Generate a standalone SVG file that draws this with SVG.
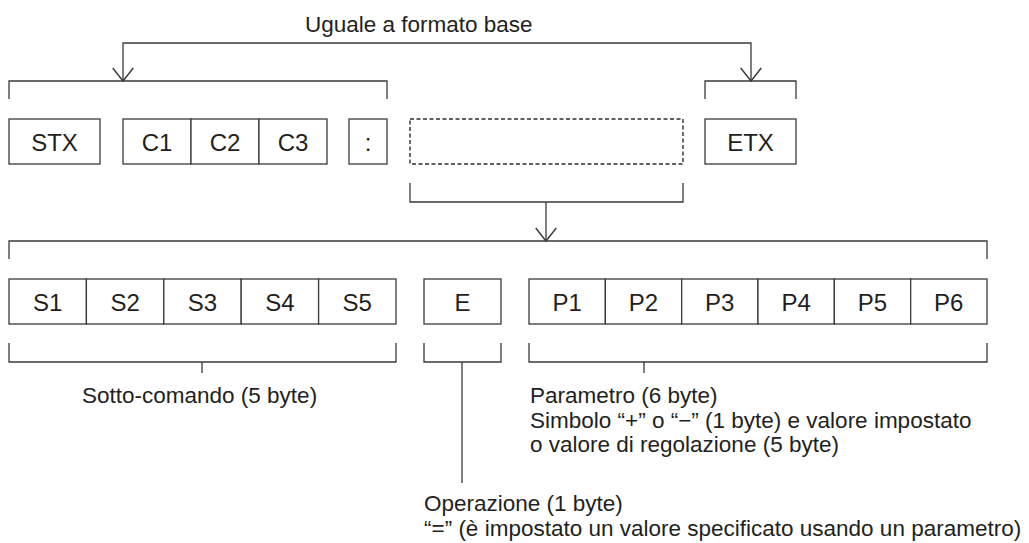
<svg xmlns="http://www.w3.org/2000/svg" width="1029" height="543" viewBox="0 0 1029 543">
<defs>
<marker id="arr" markerUnits="userSpaceOnUse" markerWidth="26" markerHeight="26" viewBox="-14 -12 16 24" refX="0" refY="0" orient="auto-start-reverse">
<path d="M-12,-9.5 L0,0 L-12,9.5" fill="none" stroke="#3a3a3a" stroke-width="1.3"/>
</marker>
<style>
.box{fill:#fff;stroke:#3a3a3a;stroke-width:1.3}
.dash{fill:none;stroke:#2e2e2e;stroke-width:1.4;stroke-dasharray:4 2.5}
.ln{fill:none;stroke:#3a3a3a;stroke-width:1.3}
.lbl{font-family:"Liberation Sans",Arial,Helvetica,sans-serif;font-size:24px;fill:#231f20;text-anchor:middle}
.txt{font-family:"Liberation Sans",Arial,Helvetica,sans-serif;font-size:22.5px;fill:#231f20}
</style>
</defs>
<rect width="1029" height="543" fill="#fff"/>

<g id="connectors">
<path class="ln" d="M123,81 V43 H751 V81" marker-start="url(#arr)" marker-end="url(#arr)"/>
<path class="ln" d="M9,99 V81 H387 V99"/>
<path class="ln" d="M705,99 V81 H796 V99"/>
<path class="ln" d="M410,183 V202 H683 V183"/>
<path class="ln" d="M546,202 V241" marker-end="url(#arr)"/>
<path class="ln" d="M9,259 V241 H987 V259"/>
<path class="ln" d="M9,343 V362 H396 V343 M202,362 V373"/>
<path class="ln" d="M424,343 V362 H501 V343 M462,362 V483"/>
<path class="ln" d="M529,343 V362 H987 V343 M644,362 V373"/>
</g>

<g id="stx"><rect class="box" x="9" y="119" width="91" height="45"/><text class="lbl" x="54.5" y="150.5">STX</text></g>
<g id="c1"><rect class="box" x="123" y="119" width="68" height="45"/><text class="lbl" x="157" y="150.5">C1</text></g>
<g id="c2"><rect class="box" x="191" y="119" width="68" height="45"/><text class="lbl" x="225" y="150.5">C2</text></g>
<g id="c3"><rect class="box" x="259" y="119" width="68" height="45"/><text class="lbl" x="293" y="150.5">C3</text></g>
<g id="colon"><rect class="box" x="349" y="119" width="38" height="45"/><text class="lbl" x="368" y="150.5">:</text></g>
<g id="placeholder"><rect class="dash" x="410" y="119" width="273" height="45"/></g>
<g id="etx"><rect class="box" x="705" y="119" width="91" height="45"/><text class="lbl" x="750.5" y="150.5">ETX</text></g>

<g id="s1"><rect class="box" x="9" y="279" width="77.4" height="45"/><text class="lbl" x="47.7" y="310.5">S1</text></g>
<g id="s2"><rect class="box" x="86.4" y="279" width="77.4" height="45"/><text class="lbl" x="125.1" y="310.5">S2</text></g>
<g id="s3"><rect class="box" x="163.8" y="279" width="77.4" height="45"/><text class="lbl" x="202.5" y="310.5">S3</text></g>
<g id="s4"><rect class="box" x="241.2" y="279" width="77.4" height="45"/><text class="lbl" x="279.9" y="310.5">S4</text></g>
<g id="s5"><rect class="box" x="318.6" y="279" width="77.4" height="45"/><text class="lbl" x="357.3" y="310.5">S5</text></g>
<g id="e"><rect class="box" x="424" y="279" width="77" height="45"/><text class="lbl" x="462.5" y="310.5">E</text></g>
<g id="p1"><rect class="box" x="529" y="279" width="76.33" height="45"/><text class="lbl" x="567.2" y="310.5">P1</text></g>
<g id="p2"><rect class="box" x="605.33" y="279" width="76.33" height="45"/><text class="lbl" x="643.5" y="310.5">P2</text></g>
<g id="p3"><rect class="box" x="681.67" y="279" width="76.33" height="45"/><text class="lbl" x="719.8" y="310.5">P3</text></g>
<g id="p4"><rect class="box" x="758" y="279" width="76.33" height="45"/><text class="lbl" x="796.2" y="310.5">P4</text></g>
<g id="p5"><rect class="box" x="834.33" y="279" width="76.33" height="45"/><text class="lbl" x="872.5" y="310.5">P5</text></g>
<g id="p6"><rect class="box" x="910.67" y="279" width="76.33" height="45"/><text class="lbl" x="948.8" y="310.5">P6</text></g>

<g id="labels">
<text class="txt" x="305" y="32">Uguale a formato base</text>
<text class="txt" x="82" y="403">Sotto-comando (5 byte)</text>
<text class="txt" x="530" y="403">Parametro (6 byte)</text>
<text class="txt" x="530" y="427.5">Simbolo “+” o “−” (1 byte) e valore impostato</text>
<text class="txt" x="530" y="452">o valore di regolazione (5 byte)</text>
<text class="txt" x="424" y="511">Operazione (1 byte)</text>
<text class="txt" x="424" y="535.5">“=” (è impostato un valore specificato usando un parametro)</text>
</g>
</svg>
